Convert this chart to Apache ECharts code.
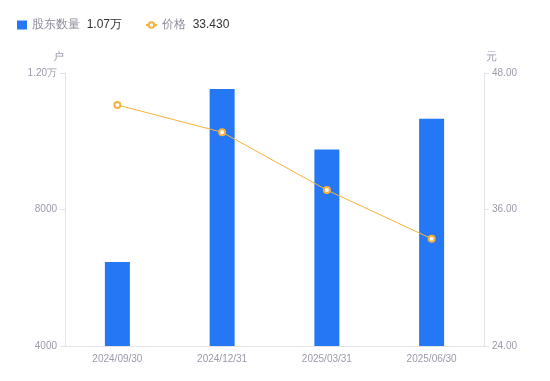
<!DOCTYPE html>
<html>
<head>
<meta charset="utf-8">
<script src="https://cdn.jsdelivr.net/npm/echarts@6/dist/echarts.min.js"></script>
<style>html,body{margin:0;padding:0;background:#fff;}#c{width:550px;height:381px;}</style>
</head>
<body>
<div id="c"></div>
<script>
const categories = ['2024/09/30', '2024/12/31', '2025/03/31', '2025/06/30'];
const holders = [6460, 11530, 9760, 10660];
const prices = [45.19, 42.79, 37.71, 33.43];
const leftTicks = [4000, 8000, 12000];
const rightTicks = [24, 36, 48];

const barColor = '#2577f6';
const lineColor = '#f7b23b';
const labelColor = '#9b9bab';
const axisColor = '#e3e3e8';

const lastHolder = (holders[holders.length - 1] / 10000).toFixed(2) + '万';
const lastPrice = prices[prices.length - 1].toFixed(3);

function legendFmt(n) {
  return '{n|' + n + '}  {v|' + (n === '股东数量' ? lastHolder : lastPrice) + '}';
}
const legendText = {
  fontSize: 12,
  rich: {
    n: {color: '#8c8c9c', fontSize: 12},
    v: {color: '#333333', fontSize: 12}
  }
};

const chart = echarts.init(document.getElementById('c'));
chart.setOption({
  animation: false,
  legend: [
    {
      left: 12, top: 14, padding: 5,
      itemWidth: 10, itemHeight: 9,
      data: [{name: '股东数量', icon: 'rect'}],
      formatter: legendFmt, textStyle: legendText
    },
    {
      left: 140, top: 14, padding: 5,
      itemWidth: 11, itemHeight: 7,
      data: [{name: '价格'}],
      formatter: legendFmt, textStyle: legendText
    }
  ],
  grid: {left: 65, right: 66, top: 73, bottom: 35},
  xAxis: {
    type: 'category',
    data: categories,
    axisLine: {lineStyle: {color: axisColor}},
    axisTick: {show: false},
    axisLabel: {color: labelColor, fontSize: 10, margin: 8}
  },
  yAxis: [
    {
      type: 'value', name: '户', min: leftTicks[0], max: leftTicks[leftTicks.length - 1], interval: 4000,
      nameGap: 11,
      nameTextStyle: {color: labelColor, fontSize: 11, padding: [0, 14, 0, 0]},
      axisLine: {show: true, lineStyle: {color: axisColor}},
      axisTick: {show: true, length: 5, lineStyle: {color: axisColor}},
      splitLine: {show: false},
      axisLabel: {
        color: labelColor, fontSize: 10,
        formatter: function (v) { return v >= 10000 ? (v / 10000).toFixed(2) + '万' : String(v); }
      }
    },
    {
      type: 'value', name: '元', min: rightTicks[0], max: rightTicks[rightTicks.length - 1], interval: 12,
      nameGap: 11,
      nameTextStyle: {color: labelColor, fontSize: 11, padding: [0, 0, 0, 14]},
      axisLine: {show: true, lineStyle: {color: axisColor}},
      axisTick: {show: true, length: 5, lineStyle: {color: axisColor}},
      splitLine: {show: false},
      axisLabel: {
        color: labelColor, fontSize: 10,
        formatter: function (v) { return v.toFixed(2); }
      }
    }
  ],
  series: [
    {
      name: '股东数量', type: 'bar', yAxisIndex: 0, data: holders, barWidth: 25,
      itemStyle: {color: barColor}
    },
    {
      name: '价格', type: 'line', yAxisIndex: 1, data: prices,
      symbol: 'emptyCircle', symbolSize: 6,
      lineStyle: {color: lineColor, width: 1},
      itemStyle: {color: lineColor, borderWidth: 2}
    }
  ]
});
</script>
</body>
</html>
